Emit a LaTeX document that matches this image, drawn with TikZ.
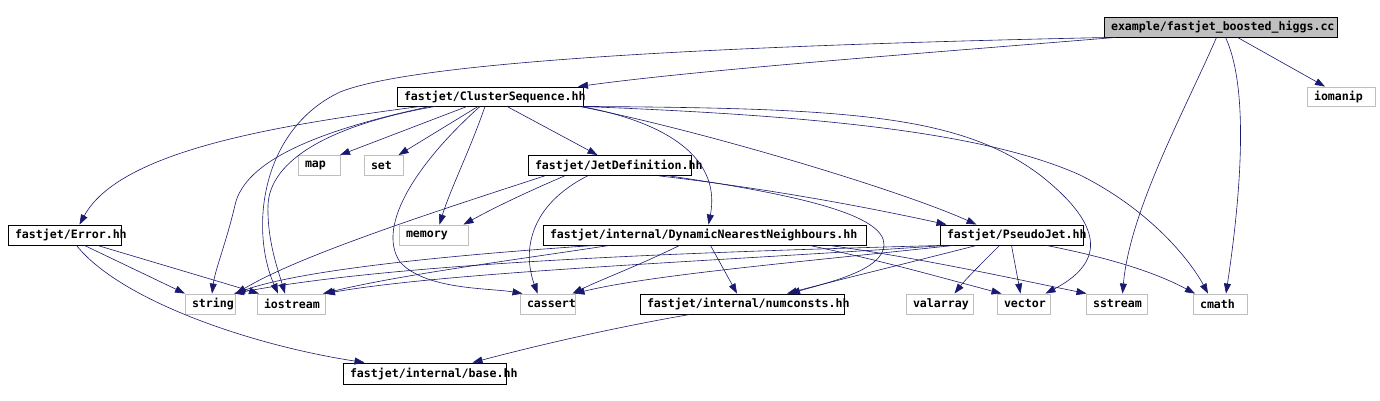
\documentclass[tikz,border=0pt]{standalone}
\usepackage{fontspec}
\setmonofont{DejaVu Sans Mono}
\usetikzlibrary{arrows.meta}
\definecolor{edgecol}{HTML}{191970}
\definecolor{sysgray}{HTML}{BFBFBF}
\newcommand{\tbx}[2]{\makebox[#1pt][l]{#2}}
\begin{document}
\begin{tikzpicture}[x=1pt,y=-1pt,
  box/.style={draw=black,line width=0.9pt,fill=white,inner xsep=7pt,inner ysep=0pt,minimum height=20pt,
    font=\ttfamily\bfseries\fontsize{11.6}{12}\selectfont,anchor=center},
  sysbox/.style={box,draw=sysgray},
  rootbox/.style={box,fill=sysgray},
  edge/.style={draw=edgecol,line width=0.6pt,-{Triangle[length=10pt,width=7pt]}}]
\useasboundingbox[fill=white] (0,0) rectangle (1380,401);
% nodes
\node[rootbox] (higgs) at (1220.5,27) {\tbx{219}{example/fastjet\_boosted\_higgs.cc}};
\node[sysbox,minimum height=19pt] (iomanip) at (1341,96.5) {\tbx{54}{iomanip}};
\node[box,minimum height=19pt] (cs) at (490,96.5) {\tbx{172}{fastjet/ClusterSequence.hh}};
\node[sysbox] (map) at (319,165.5) {\tbx{28}{map}};
\node[sysbox] (set) at (383.5,165.5) {\tbx{25}{set}};
\node[box] (jet) at (609.5,165.5) {\tbx{149}{fastjet/JetDefinition.hh}};
\node[box] (error) at (64.5,235) {\tbx{99}{fastjet/Error.hh}};
\node[sysbox] (memory) at (433.5,235) {\tbx{55}{memory}};
\node[box] (dnn) at (704.5,235) {\tbx{309}{fastjet/internal/DynamicNearestNeighbours.hh}};
\node[box] (pj) at (1011.5,235) {\tbx{129}{fastjet/PseudoJet.hh}};
\node[sysbox] (string) at (210,304) {\tbx{36}{string}};
\node[sysbox] (iostream) at (291,304) {\tbx{54}{iostream}};
\node[sysbox] (cassert) at (547.5,304) {\tbx{41}{cassert}};
\node[box] (numconsts) at (742,304) {\tbx{190}{fastjet/internal/numconsts.hh}};
\node[sysbox] (valarray) at (939.5,304) {\tbx{53}{valarray}};
\node[sysbox] (vector) at (1023.5,304) {\tbx{39}{vector}};
\node[sysbox] (sstream) at (1116.5,304) {\tbx{47}{sstream}};
\node[sysbox] (cmath) at (1220,304) {\tbx{40}{cmath}};
\node[box,minimum height=21pt] (base) at (424.5,373.5) {\tbx{149}{fastjet/internal/base.hh}};
% edges from higgs
\draw[edge] ([xshift=-105]higgs.south) .. controls (900,55) and (700,70) .. ([xshift=88]cs.north);
\draw[edge] ([xshift=-112]higgs.south) .. controls (750,45) and (420,60) .. (340,92) .. controls (260,130) and (250,230) .. ([xshift=-13]iostream.north);
\draw[edge] ([xshift=17]higgs.south) -- ([xshift=-16]iomanip.north);
\draw[edge] ([xshift=-4]higgs.south) .. controls (1185,110) and (1130,210) .. ([xshift=6]sstream.north);
\draw[edge] ([xshift=5]higgs.south) .. controls (1250,90) and (1240,200) .. ([xshift=6]cmath.north);
% edges from ClusterSequence
\draw[edge] ([xshift=-23]cs.south) -- ([xshift=21]map.north);
\draw[edge] ([xshift=-12]cs.south) -- ([xshift=15]set.north);
\draw[edge] ([xshift=-5]cs.south) .. controls (470,150) and (450,190) .. ([xshift=6]memory.north);
\draw[edge] ([xshift=-10]cs.south) .. controls (420,160) and (375,225) .. (400,262) .. controls (425,290) and (490,288) .. ([xshift=-25]cassert.north);
\draw[edge] ([xshift=17]cs.south) -- ([xshift=-12]jet.north);
\draw[edge] ([xshift=-70]cs.south) .. controls (280,125) and (120,150) .. ([xshift=15]error.north);
\draw[edge] ([xshift=-55]cs.south) .. controls (330,125) and (270,160) .. (268,205) .. controls (267,240) and (278,270) .. ([xshift=-6]iostream.north);
\draw[edge] ([xshift=-60]cs.south) .. controls (320,130) and (245,160) .. (235,205) .. controls (227,240) and (215,270) .. ([xshift=2]string.north);
\draw[edge] ([xshift=-2]cs.south east) .. controls (680,125) and (720,165) .. ([xshift=4]dnn.north);
\draw[edge] ([xshift=-4]cs.south east) .. controls (700,130) and (900,190) .. ([xshift=-35]pj.north);
\draw[edge] ([xshift=0]cs.south east) .. controls (850,108) and (960,115) .. (1040,175) .. controls (1110,230) and (1100,265) .. ([xshift=22]vector.north);
\draw[edge] ([xshift=-1]cs.south east) .. controls (800,115) and (980,130) .. (1080,175) .. controls (1150,210) and (1190,260) .. ([xshift=-12]cmath.north);
% edges from Error
\draw[edge] ([xshift=20]error.south) -- ([xshift=-25]string.north);
\draw[edge] ([xshift=33]error.south) -- ([xshift=-32]iostream.north);
\draw[edge] ([xshift=12]error.south) .. controls (120,300) and (250,345) .. ([xshift=-60]base.north);
% edges from JetDefinition
\draw[edge] ([xshift=-65]jet.south) .. controls (440,210) and (300,255) .. ([xshift=26]string.north);
\draw[edge] ([xshift=-45]jet.south) .. controls (520,195) and (490,210) .. ([xshift=30]memory.north);
\draw[edge] ([xshift=-22]jet.south) .. controls (530,205) and (522,250) .. ([xshift=-10]cassert.north);
\draw[edge] ([xshift=50]jet.south) .. controls (780,190) and (880,210) .. ([xshift=-65]pj.north);
\draw[edge] ([xshift=60]jet.south) .. controls (800,195) and (885,215) .. (884,245) .. controls (883,270) and (830,282) .. ([xshift=48]numconsts.north);
% edges from DynamicNearestNeighbours
\draw[edge] ([xshift=-110]dnn.south) .. controls (450,255) and (300,270) .. ([xshift=25]string.north);
\draw[edge] ([xshift=-95]dnn.south) .. controls (500,262) and (400,275) .. ([xshift=32]iostream.north);
\draw[edge] ([xshift=-25]dnn.south) .. controls (640,265) and (600,280) .. ([xshift=25]cassert.north);
\draw[edge] ([xshift=6]dnn.south) -- ([xshift=-5]numconsts.north);
\draw[edge] ([xshift=105]dnn.south) .. controls (880,260) and (950,280) .. ([xshift=-22]vector.north);
\draw[edge] ([xshift=125]dnn.south) .. controls (920,258) and (1020,280) .. ([xshift=-30]sstream.north);
% edges from PseudoJet
\draw[edge] ([xshift=-71]pj.south) .. controls (700,252) and (400,262) .. ([xshift=24]string.north);
\draw[edge] ([xshift=-66]pj.south) .. controls (700,262) and (450,272) .. ([xshift=34]iostream.north);
\draw[edge] ([xshift=-58]pj.south) .. controls (800,262) and (650,275) .. ([xshift=27]cassert.north);
\draw[edge] ([xshift=-35]pj.south) .. controls (900,265) and (830,282) .. ([xshift=45]numconsts.north);
\draw[edge] ([xshift=-12]pj.south) .. controls (980,265) and (965,280) .. ([xshift=15]valarray.north);
\draw[edge] (pj.south) -- ([xshift=-3]vector.north);
\draw[edge] ([xshift=35]pj.south) .. controls (1120,260) and (1160,275) .. ([xshift=-25]cmath.north);
% numconsts -> base
\draw[edge] ([xshift=-52]numconsts.south) .. controls (600,330) and (520,350) .. ([xshift=48]base.north);
\end{tikzpicture}
\end{document}
